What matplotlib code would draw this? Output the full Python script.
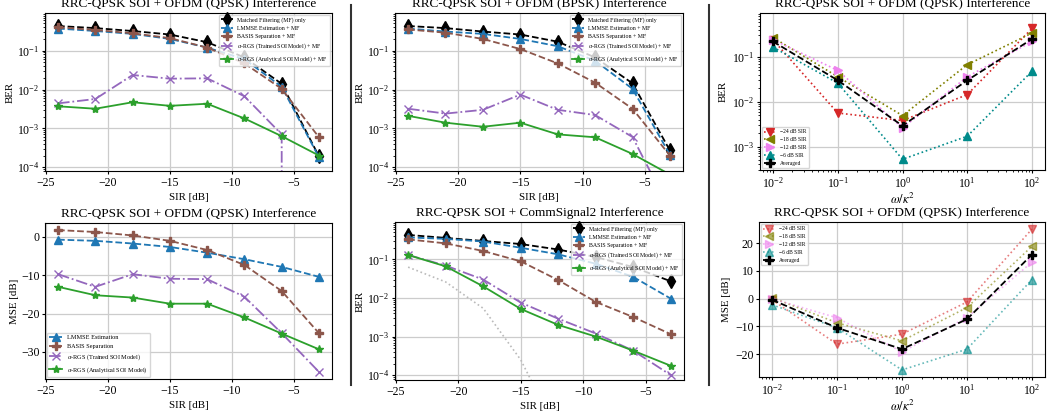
import numpy as np
import matplotlib
matplotlib.use('Agg')
import matplotlib.pyplot as plt
from matplotlib.lines import Line2D

plt.rcParams['font.family'] = ['Liberation Serif', 'DejaVu Serif']
plt.rcParams['mathtext.fontset'] = 'stix'
plt.rcParams['xtick.labelsize'] = 8.5
plt.rcParams['ytick.labelsize'] = 8.5
plt.rcParams['axes.labelsize'] = 7.8
plt.rcParams['xtick.major.size'] = 2.5
plt.rcParams['ytick.major.size'] = 2.5
plt.rcParams['xtick.minor.size'] = 1.5
plt.rcParams['ytick.minor.size'] = 1.5
plt.rcParams['xtick.major.pad'] = 1.5
plt.rcParams['ytick.major.pad'] = 1.5
plt.rcParams['xtick.minor.pad'] = 1.5
plt.rcParams['ytick.minor.pad'] = 1.5

# ---- data ----
sir = [-24, -21, -18, -15, -12, -9, -6, -3]

# OFDM (QPSK) BER
qpsk_mf = [0.43, 0.38, 0.32, 0.26, 0.165, 0.067, 0.014, 1.9e-4]
qpsk_lmmse = [0.37, 0.32, 0.27, 0.20, 0.12, 0.06, 0.0118, 1.8e-4]
qpsk_basis = [0.40, 0.34, 0.28, 0.21, 0.12, 0.047, 0.0104, 5.9e-4]
qpsk_trained = [4.4e-3, 5.7e-3, 0.0236, 0.019, 0.0194, 6.7e-3, 7e-4, 0.0]
qpsk_analytical = [3.7e-3, 3.2e-3, 4.7e-3, 3.8e-3, 4.3e-3, 1.8e-3, 6.3e-4, 2.0e-4]

# OFDM (BPSK) BER
bpsk_mf = [0.43, 0.38, 0.31, 0.26, 0.17, 0.067, 0.0144, 2.7e-4]
bpsk_lmmse = [0.37, 0.31, 0.27, 0.20, 0.13, 0.055, 0.0104, 2.1e-4]
bpsk_basis = [0.35, 0.29, 0.20, 0.11, 0.047, 0.015, 3.2e-3, 2.0e-4]
bpsk_trained = [3.2e-3, 2.4e-3, 3.0e-3, 7.4e-3, 3.0e-3, 2.2e-3, 6.0e-4, 8e-6]
bpsk_analytical = [2.1e-3, 1.4e-3, 1.1e-3, 1.4e-3, 7.0e-4, 5.9e-4, 2.2e-4, 6.5e-5]

# OFDM (QPSK) MSE [dB]
mse_lmmse = [-0.7, -1.0, -1.7, -2.6, -4.1, -5.8, -7.8, -10.4]
mse_basis = [1.8, 1.3, 0.4, -1.0, -3.4, -7.3, -14.1, -25.1]
mse_trained = [-9.7, -13.0, -9.7, -10.9, -11.0, -15.6, -25.1, -35.2]
mse_analytical = [-13.0, -15.2, -15.8, -17.4, -17.4, -21.0, -25.2, -29.3]

# CommSignal2 BER
cs_mf = [0.43, 0.36, 0.30, 0.25, 0.18, 0.115, 0.063, 0.027]
cs_lmmse = [0.37, 0.34, 0.29, 0.20, 0.135, 0.077, 0.035, 9.6e-3]
cs_basis = [0.33, 0.26, 0.165, 0.089, 0.029, 7.9e-3, 3.2e-3, 1.15e-3]
cs_trained = [0.13, 0.069, 0.030, 7.6e-3, 2.9e-3, 1.2e-3, 4.3e-4, 1.0e-4]
cs_analytical = [0.13, 0.066, 0.020, 5.2e-3, 2.0e-3, 1.0e-3, 4.3e-4, 1.75e-4]
cs_ref = [0.063, 0.026, 5.4e-3, 2.5e-4, 3e-6, np.nan, np.nan, np.nan]

# omega / kappa^2 sweep
omega = [1e-2, 1e-1, 1e0, 1e1, 1e2]
sir_labels = ['\u221224 dB SIR', '\u221218 dB SIR', '\u221212 dB SIR', '\u22126 dB SIR']
ber_sweep = [
    [0.24, 5.6e-3, 3.8e-3, 0.0144, 0.43],
    [0.27, 0.036, 4.9e-3, 0.067, 0.34],
    [0.24, 0.050, 2.6e-3, 0.036, 0.22],
    [0.165, 0.026, 5.2e-4, 1.7e-3, 0.048],
]
ber_avg = [0.22, 0.030, 2.9e-3, 0.030, 0.25]
mse_sweep = [
    [-0.4, -16.4, -12.8, -1.2, 25.1],
    [0.4, -8.7, -15.2, -3.2, 18.9],
    [0.0, -6.9, -19.2, -6.8, 13.2],
    [-2.2, -10.5, -25.7, -18.2, 6.9],
]
mse_avg = [-0.4, -10.5, -18.2, -7.4, 15.9]

method_labels = ['Matched Filtering (MF) only', 'LMMSE Estimation + MF',
                 'BASIS Separation + MF', r'$\alpha$-RGS (Trained SOI Model) + MF',
                 r'$\alpha$-RGS (Analytical SOI Model) + MF']
mse_labels = ['LMMSE Estimation', 'BASIS Separation',
              r'$\alpha$-RGS (Trained SOI Model)', r'$\alpha$-RGS (Analytical SOI Model)']

styles = [dict(color='k', ls='--', marker='d', ms=7),
          dict(color='tab:blue', ls='--', marker='^', ms=6),
          dict(color='tab:brown', ls='--', marker='P', ms=6),
          dict(color='tab:purple', ls='-.', marker='x', ms=6),
          dict(color='tab:green', ls='-', marker='*', ms=6)]
sweep_styles = [dict(color='tab:red', marker='v'),
                dict(color='olive', marker='<'),
                dict(color='violet', marker='>'),
                dict(color='darkcyan', marker='^')]

W, H = 1047.0, 412.0
fig = plt.figure(figsize=(W / 100, H / 100), dpi=100)


def rect(l, t, r, b):
    return [l / W, 1 - b / H, (r - l) / W, (b - t) / H]


title = 'RRC-QPSK SOI + OFDM (QPSK) Interference'


def ber_panel(pos, series, ttl):
    ax = fig.add_axes(rect(*pos))
    for y, lab, st in zip(series, method_labels, styles):
        ax.plot(sir, y, lw=1.3, label=lab, **st)
    ax.set_yscale('log')
    ax.set_ylim(8e-5, 0.93)
    ax.set_xlim(-25.05, -1.95)
    ax.grid(True, color='#cccccc', lw=0.9)
    ax.set_xlabel('SIR [dB]', labelpad=3)
    ax.set_ylabel('BER', labelpad=1.5)
    ax.set_title(ttl, fontsize=9.5, pad=4)
    ax.legend(loc='upper right', fontsize=4.2, borderaxespad=0.3)
    return ax


ber_panel((45, 13, 332, 171), [qpsk_mf, qpsk_lmmse, qpsk_basis, qpsk_trained, qpsk_analytical], title)
ber_panel((395, 13, 683, 171), [bpsk_mf, bpsk_lmmse, bpsk_basis, bpsk_trained, bpsk_analytical],
          'RRC-QPSK SOI + OFDM (BPSK) Interference')
ax5 = ber_panel((395, 222, 684, 380), [cs_mf, cs_lmmse, cs_basis, cs_trained, cs_analytical],
                'RRC-QPSK SOI + CommSignal2 Interference')
ax5.plot(sir, cs_ref, color='#bbbbbb', ls=':', lw=1.2)
ax5.set_ylim(7.5e-5, 0.93)

# MSE panel
ax2 = fig.add_axes(rect(45, 223, 332, 379))
for y, lab, st in zip([mse_lmmse, mse_basis, mse_trained, mse_analytical], mse_labels, styles[1:]):
    ax2.plot(sir, y, lw=1.3, label=lab, **st)
ax2.set_xlim(-25.05, -1.95)
ax2.grid(True, color='#cccccc', lw=0.9)
ax2.set_xlabel('SIR [dB]', labelpad=3)
ax2.set_ylabel('MSE [dB]', labelpad=1.5)
ax2.set_title(title, fontsize=9.5, pad=4)
ax2.legend(loc='lower left', fontsize=4.5, borderaxespad=0.3)

# omega sweeps
ax3 = fig.add_axes(rect(760, 13, 1045, 170))
for y, lab, st in zip(ber_sweep, sir_labels, sweep_styles):
    ax3.plot(omega, y, ls=':', lw=1.2, ms=6, label=lab, **st)
ax3.plot(omega, ber_avg, color='k', ls='--', marker='P', ms=6, lw=1.3, label='Averaged')
ax3.set_xscale('log')
ax3.set_yscale('log')
ax3.set_ylim(3e-4, 0.95)
ax3.grid(True, color='#cccccc', lw=0.9)
ax3.set_xlabel(r'$\omega/\kappa^2$', fontsize=9, labelpad=1)
ax3.set_ylabel('BER', labelpad=3)
ax3.set_title(title, fontsize=9.5, pad=4)
ax3.legend(loc='lower left', fontsize=4, borderaxespad=0.4)

ax4 = fig.add_axes(rect(759, 222, 1045, 377))
for y, lab, st in zip(mse_sweep, sir_labels, sweep_styles):
    ax4.plot(omega, y, ls=':', lw=1.2, ms=6, alpha=0.6, label=lab, **st)
ax4.plot(omega, mse_avg, color='k', ls='--', marker='P', ms=6, lw=1.3, label='Averaged')
ax4.set_xscale('log')
ax4.grid(True, color='#cccccc', lw=0.9)
ax4.set_xlabel(r'$\omega/\kappa^2$', fontsize=9, labelpad=1)
ax4.set_ylabel('MSE [dB]', labelpad=3)
ax4.set_title(title, fontsize=9.5, pad=4)
ax4.legend(loc='upper left', fontsize=4, borderaxespad=0.4)

# column separators
for xs in (351, 709):
    fig.add_artist(Line2D([xs / W, xs / W], [1 - 5 / H, 1 - 385 / H], color='#333333', lw=1.5))

fig.savefig('out.png', dpi=100)
